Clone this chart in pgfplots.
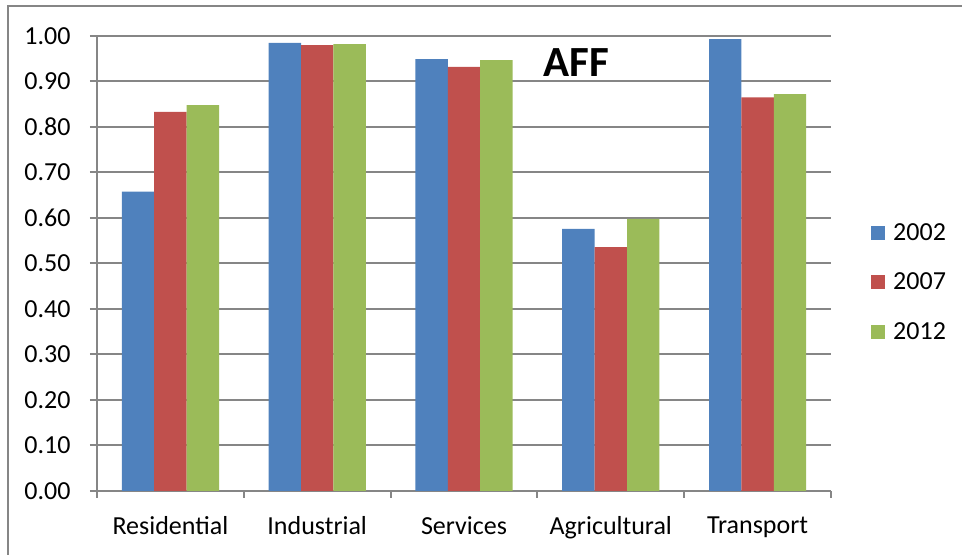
\documentclass[border=0pt]{standalone}
\usepackage{fontspec}
\setmainfont{Carlito}
\usepackage{pgfplots}
\pgfplotsset{compat=1.18}
\definecolor{c2002}{RGB}{79,129,189}
\definecolor{c2007}{RGB}{192,80,77}
\definecolor{c2012}{RGB}{155,187,89}
\definecolor{gridgray}{RGB}{134,134,134}
\begin{document}
\begin{tikzpicture}
\useasboundingbox (0,0) rectangle (962bp,555bp);
\draw[gridgray, line width=2bp] (8bp,0) -- (8bp,549bp) -- (962bp,549bp);
\begin{axis}[
  at={(97bp,64bp)}, anchor=south west,
  scale only axis, width=734bp, height=455bp,
  xmin=-0.5, xmax=4.5, ymin=0, ymax=1,
  ybar=0pt, bar width=32.4bp,
  axis x line*=bottom, axis y line*=left,
  axis line style={gridgray, line width=2bp},
  ymajorgrids, grid style={gridgray, line width=2bp},
  ytick={0,0.1,0.2,0.3,0.4,0.5,0.6,0.7,0.8,0.9,1},
  xtick={-0.5,0.5,1.5,2.5,3.5,4.5},
  x tick label as interval,
  xticklabels={Residential,Industrial,Services,Agricultural,Transport},
  tick align=outside, major tick length=7bp,
  tick style={gridgray, line width=2bp},
  ticklabel style={font=\fontsize{26bp}{31bp}\selectfont},
  xticklabel style={yshift=-15bp},
  yticklabel style={xshift=-16bp, /pgf/number format/.cd, fixed, fixed zerofill, precision=2, assume math mode=true},
  legend style={at={(1.0545,0.459)}, anchor=west, draw=none, fill=none,
    font=\fontsize{26bp}{31bp}\selectfont, inner sep=0pt,
    nodes={inner sep=0pt}, column sep=8bp, row sep=31bp},
  legend cell align=left,
  legend image code/.code={\fill[#1] (0bp,-7bp) rectangle (14bp,7bp);},
]
\addplot[fill=c2002, draw=none] coordinates {(0,0.658) (1,0.985) (2,0.949) (3,0.576) (4,0.993)};
\addplot[fill=c2007, draw=none] coordinates {(0,0.833) (1,0.980) (2,0.932) (3,0.536) (4,0.865)};
\addplot[fill=c2012, draw=none] coordinates {(0,0.848) (1,0.982) (2,0.947) (3,0.598) (4,0.872)};
\legend{2002,2007,2012}
\node[font=\bfseries\fontsize{43bp}{50bp}\selectfont, inner sep=0pt] at (rel axis cs:0.6526,0.9407) {AFF};
\end{axis}
\end{tikzpicture}
\end{document}
